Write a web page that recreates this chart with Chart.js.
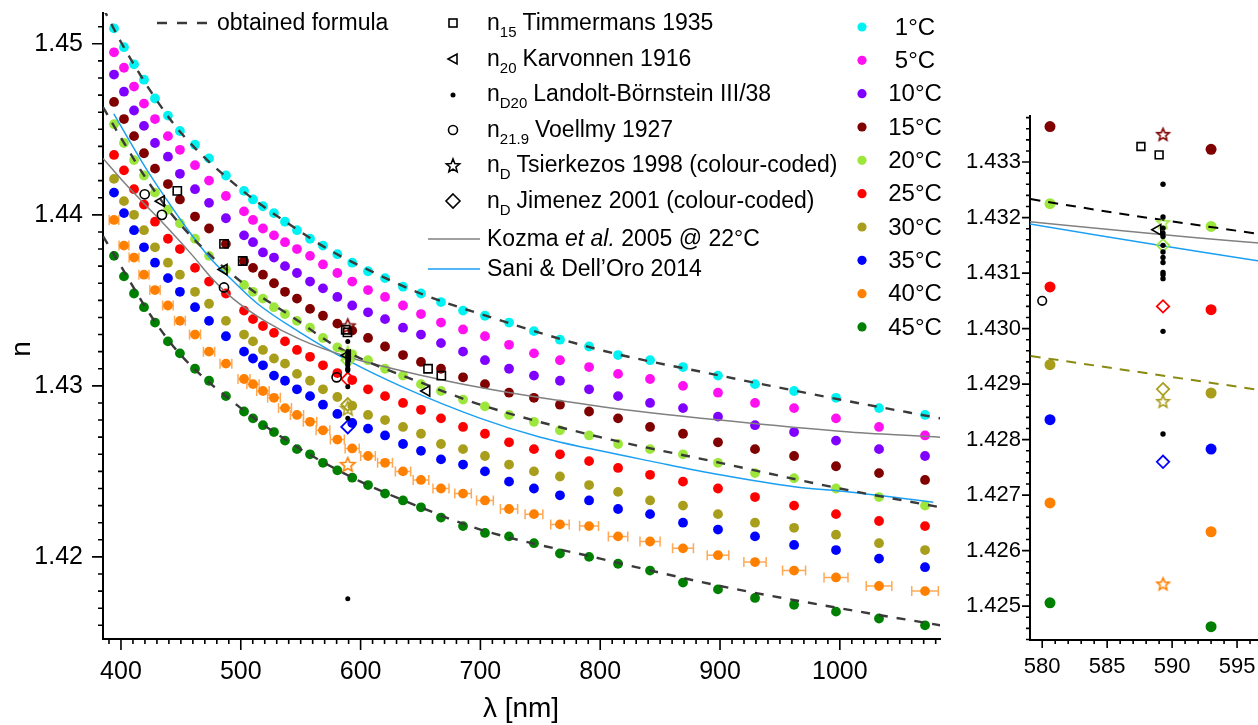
<!DOCTYPE html>
<html>
<head>
<meta charset="utf-8">
<script src="https://cdn.jsdelivr.net/npm/chart.js@4.4.1/dist/chart.umd.min.js"></script>
<style>
  html, body { margin: 0; padding: 0; background: #fff; overflow: hidden; width: 1258px; height: 725px; }
  #main { position: absolute; left: 0; top: 0; }
  #inset { position: absolute; left: 940px; top: 100px; }
</style>
</head>
<body>
<canvas id="main" width="960" height="725" style="width:960px;height:725px"></canvas>
<canvas id="inset" width="370" height="625" style="width:370px;height:625px"></canvas>
<script>
// wavelengths [nm] of the measured columns
var wavelengths = [394.2, 402.5, 410.9, 419.2, 428.4, 439.2, 449.2, 461.8, 473.5, 487.6,
  502.7, 510.2, 518.5, 527.7, 536.9, 546.9, 557.8, 568.6, 580.6, 593.0,
  606.2, 620.4, 635.4, 650.4, 667.1, 685.5, 703.8, 723.9, 744.7, 766.4,
  790.7, 814.9, 841.6, 869.1, 898.3, 929.2, 961.8, 996.8, 1032.7, 1071.1];

var temperatures = ['1°C', '5°C', '10°C', '15°C', '20°C', '25°C', '30°C', '35°C', '40°C', '45°C'];

var n1C = [1.4509, 1.4498, 1.4488, 1.4479, 1.4468, 1.4458, 1.4449, 1.4441, 1.4433, 1.4423, 1.4414, 1.4409, 1.4405, 1.4401, 1.4396, 1.4391, 1.4386, 1.4382, 1.4377, 1.4372, 1.4367, 1.4363, 1.4358, 1.4354, 1.4349, 1.4344, 1.4341, 1.4337, 1.4332, 1.4327, 1.4323, 1.4318, 1.4315, 1.4311, 1.4306, 1.4301, 1.4297, 1.4293, 1.4287, 1.4283];
var n5C = [1.4495, 1.4486, 1.4475, 1.4465, 1.4456, 1.4446, 1.4438, 1.4429, 1.4420, 1.4411, 1.4402, 1.4397, 1.4392, 1.4388, 1.4384, 1.4380, 1.4376, 1.4371, 1.4366, 1.4361, 1.4356, 1.4352, 1.4347, 1.4342, 1.4337, 1.4333, 1.4329, 1.4324, 1.4319, 1.4315, 1.4311, 1.4307, 1.4304, 1.4300, 1.4296, 1.4290, 1.4287, 1.4281, 1.4276, 1.4271];
var n10C = [1.4482, 1.4472, 1.4461, 1.4452, 1.4442, 1.4434, 1.4424, 1.4415, 1.4407, 1.4398, 1.4388, 1.4384, 1.4378, 1.4375, 1.4370, 1.4366, 1.4361, 1.4357, 1.4352, 1.4347, 1.4343, 1.4339, 1.4334, 1.4330, 1.4325, 1.4320, 1.4315, 1.4310, 1.4306, 1.4303, 1.4298, 1.4294, 1.4290, 1.4287, 1.4282, 1.4277, 1.4273, 1.4268, 1.4263, 1.4259];
var n15C = [1.4466, 1.4456, 1.4446, 1.4436, 1.4427, 1.4418, 1.4409, 1.4399, 1.4392, 1.4383, 1.4373, 1.4369, 1.4365, 1.4360, 1.4355, 1.4351, 1.4345, 1.4341, 1.43364, 1.43323, 1.4328, 1.4323, 1.4318, 1.4314, 1.4310, 1.4305, 1.4301, 1.4296, 1.4293, 1.4289, 1.4285, 1.4281, 1.4276, 1.4272, 1.4267, 1.4263, 1.4259, 1.4253, 1.4249, 1.4245];
var n20C = [1.4453, 1.4442, 1.4432, 1.4423, 1.4413, 1.4403, 1.4395, 1.4386, 1.4376, 1.4368, 1.4359, 1.4355, 1.4351, 1.4346, 1.4342, 1.4338, 1.4334, 1.4328, 1.43225, 1.43184, 1.4315, 1.4310, 1.4306, 1.4301, 1.4297, 1.4292, 1.4288, 1.4283, 1.4279, 1.4274, 1.4271, 1.4266, 1.4263, 1.4260, 1.4255, 1.4249, 1.4246, 1.4240, 1.4235, 1.4230];
var n25C = [1.4435, 1.4426, 1.4415, 1.4406, 1.4396, 1.4386, 1.4380, 1.4369, 1.4361, 1.4354, 1.4344, 1.4339, 1.4335, 1.4331, 1.4326, 1.4321, 1.4317, 1.4312, 1.43075, 1.43034, 1.4298, 1.4294, 1.4290, 1.4286, 1.4281, 1.4276, 1.4272, 1.4267, 1.4263, 1.4260, 1.4256, 1.4252, 1.4248, 1.4244, 1.4240, 1.4235, 1.4230, 1.4225, 1.4221, 1.4218];
var n30C = [1.4421, 1.4408, 1.4400, 1.4391, 1.4381, 1.4372, 1.4365, 1.4355, 1.4348, 1.4338, 1.4330, 1.4326, 1.4321, 1.4316, 1.4313, 1.4307, 1.4303, 1.4298, 1.42935, 1.42884, 1.4283, 1.4280, 1.4276, 1.4272, 1.4266, 1.4263, 1.4259, 1.4254, 1.4250, 1.4247, 1.4242, 1.4238, 1.4233, 1.4230, 1.4225, 1.4220, 1.4217, 1.4213, 1.4208, 1.4204];
var n35C = [1.4413, 1.4401, 1.4391, 1.4381, 1.4372, 1.4363, 1.4355, 1.4346, 1.4338, 1.4329, 1.4320, 1.4316, 1.4312, 1.4306, 1.4303, 1.4298, 1.4294, 1.4289, 1.42836, 1.42783, 1.4275, 1.4271, 1.4266, 1.4262, 1.4257, 1.4254, 1.4250, 1.4244, 1.4240, 1.4236, 1.4233, 1.4228, 1.4225, 1.4220, 1.4216, 1.4212, 1.4207, 1.4204, 1.4199, 1.4194];
var n40C = [1.4397, 1.4382, 1.4375, 1.4365, 1.4356, 1.4347, 1.4338, 1.4330, 1.4320, 1.4313, 1.4304, 1.4301, 1.4297, 1.4293, 1.4287, 1.4283, 1.4279, 1.4274, 1.42686, 1.42634, 1.4259, 1.4255, 1.4250, 1.4245, 1.4240, 1.4237, 1.4233, 1.4228, 1.4225, 1.4219, 1.4218, 1.4212, 1.4209, 1.4205, 1.4201, 1.4197, 1.4192, 1.4188, 1.4183, 1.4180];
var n45C = [1.4376, 1.4364, 1.4354, 1.4346, 1.4337, 1.4326, 1.4319, 1.4310, 1.4303, 1.4294, 1.4285, 1.4281, 1.4277, 1.4273, 1.4268, 1.4263, 1.4260, 1.4255, 1.42506, 1.42463, 1.4242, 1.4237, 1.4233, 1.4229, 1.4223, 1.4218, 1.4214, 1.4212, 1.4208, 1.4202, 1.4200, 1.4196, 1.4192, 1.4185, 1.4181, 1.4176, 1.4172, 1.4168, 1.4164, 1.4160];
// wavelength uncertainty of the 40°C series [nm]
var xErr40C = [4.0, 4.1, 4.1, 4.2, 4.3, 4.4, 4.5, 4.6, 4.7, 4.9, 5.0, 5.1, 5.2, 5.3, 5.4, 5.5, 5.6, 5.7, 5.8, 5.9, 6.1, 6.2, 6.4, 6.5, 6.7, 6.9, 7.0, 7.2, 7.4, 7.7, 7.9, 8.1, 8.4, 8.7, 9.0, 9.3, 9.6, 10.0, 10.7, 11.1];

// obtained formula curves
var formulaL = [385, 400, 425, 450, 500, 550, 575, 600, 650, 700, 800, 900, 1000, 1084];
var formula1C = [1.4521, 1.4501, 1.4472, 1.4448, 1.4415, 1.4390, 1.4379, 1.4370, 1.4354, 1.4342, 1.4321, 1.4306, 1.4292, 1.4281];
var formula20C = [1.4463, 1.4445, 1.4417, 1.4394, 1.4361, 1.4337, 1.4325, 1.4316, 1.4302, 1.4289, 1.4270, 1.4255, 1.4240, 1.4229];
var formula45C = [1.43875, 1.4370, 1.4341, 1.4318, 1.4287, 1.4263, 1.4253, 1.4244, 1.4229, 1.4216, 1.4199, 1.4183, 1.4170, 1.4160];
var formula30L = [575, 600];
var formula30C = [1.42965, 1.42878];

// literature curves
var kozmaL = [385, 400, 416, 438, 460, 477, 493.5, 520, 550, 589, 633, 700, 800, 900, 1008, 1084];
var kozmaN = [1.4433, 1.4421, 1.4409, 1.4393, 1.4376, 1.4362, 1.4351, 1.4338, 1.4327, 1.4317, 1.4309, 1.4299, 1.4288, 1.4280, 1.4273, 1.4270];
var saniL = [394, 421, 438, 455, 474, 494, 514, 550, 589, 633, 700, 750, 800, 842, 900, 962, 1008, 1078];
var saniN = [1.4459, 1.4427, 1.4409, 1.4392, 1.4375, 1.4361, 1.4348, 1.4331, 1.4315, 1.4300, 1.4281, 1.4270, 1.4262, 1.4256, 1.4248, 1.4241, 1.4238, 1.4232];

// literature points
var timmermansL = [447.0, 486.0, 501.6, 587.6, 589.0, 656.3, 667.4];
var timmermansN = [1.4414, 1.4383, 1.4373, 1.43328, 1.43313, 1.4310, 1.4306];
var karvonnenL = [433.6, 486.0, 588.9, 655.2];
var karvonnenN = [1.4408, 1.4368, 1.43178, 1.4297];
var landoltL = [589.3, 589.3, 589.3, 589.3, 589.3, 589.3, 589.3, 589.3, 589.3, 589.3, 589.3, 589.3, 589.3, 589.3, 589.3];
var landoltN = [1.4326, 1.43201, 1.43181, 1.43172, 1.43166, 1.43150, 1.43138, 1.43128, 1.43119, 1.43101, 1.43097, 1.43090, 1.42995, 1.42810, 1.41755];
var voellmyL = [419.8, 434.2, 486.0, 580.0];
var voellmyN = [1.4412, 1.4400, 1.43575, 1.4305];
var tsierkezosT = ['15°C', '20°C', '30°C', '40°C'];
var tsierkezosN = [1.43350, 1.43191, 1.42869, 1.42540];
var jimenezT = ['20°C', '25°C', '30°C', '35°C'];
var jimenezN = [1.43150, 1.43040, 1.42891, 1.42760];

var tempColors = ['#00f2f2', '#ff10f0', '#8000ff', '#800000', '#9de63b', '#ff0000', '#a89e1c', '#0000ff', '#ff8000', '#008000'];
var FONT = "'Liberation Sans', Arial, Helvetica, sans-serif";
Chart.defaults.font.family = FONT;
Chart.defaults.color = '#000';

function toPts(xs, ys) { return xs.map(function (x, i) { return { x: x, y: ys[i] }; }); }
function colorOf(t) { return tempColors[temperatures.indexOf(t)]; }

function starPath(ctx, cx, cy, R, r) {
  ctx.beginPath();
  for (var k = 0; k < 10; k++) {
    var rad = k % 2 ? r : R;
    var a = -Math.PI / 2 + k * Math.PI / 5;
    var px = cx + rad * Math.cos(a), py = cy + rad * Math.sin(a);
    if (k) ctx.lineTo(px, py); else ctx.moveTo(px, py);
  }
  ctx.closePath();
}
function starImage(color, R) {
  var c = document.createElement('canvas');
  var s = Math.ceil(2 * R + 4);
  c.width = s; c.height = s;
  var g = c.getContext('2d');
  g.strokeStyle = color; g.lineWidth = 1.6;
  starPath(g, s / 2, s / 2 + 0.5, R, R * 0.45);
  g.stroke();
  return c;
}

function buildDatasets(inset) {
  var ds = [];
  var dotR = inset ? 5.5 : 4.9;
  var mk = inset ? { sq: 5.5, tri: 6, dot: 2.7, circ: 4.3, star: 6.5, dia: 6.2 } : { sq: 5.8, tri: 6, dot: 2.5, circ: 4.6, star: 7.5, dia: 6.5 };
  var clear = 'rgba(0,0,0,0)';
  // reference points on top
  ds.push({ data: toPts(landoltL, landoltN), pointStyle: 'circle', pointRadius: mk.dot, backgroundColor: '#000', borderWidth: 0, order: 0 });
  ds.push({ data: toPts(timmermansL, timmermansN), pointStyle: 'rect', pointRadius: mk.sq, backgroundColor: clear, borderColor: '#000', borderWidth: 1.6, order: 0 });
  ds.push({ data: toPts(karvonnenL, karvonnenN), pointStyle: 'triangle', rotation: -90, pointRadius: mk.tri, backgroundColor: clear, borderColor: '#000', borderWidth: 1.6, order: 0 });
  ds.push({ data: toPts(voellmyL, voellmyN), pointStyle: 'circle', pointRadius: mk.circ, backgroundColor: clear, borderColor: '#000', borderWidth: 1.6, order: 0 });
  ds.push({ data: toPts(tsierkezosN.map(function () { return 589.3; }), tsierkezosN),
    pointStyle: tsierkezosT.map(function (t) { return starImage(colorOf(t), mk.star); }), pointRadius: mk.star, order: 0 });
  ds.push({ data: toPts(jimenezN.map(function () { return 589.3; }), jimenezN), pointStyle: 'rectRot', pointRadius: mk.dia,
    backgroundColor: clear, borderColor: jimenezT.map(colorOf), borderWidth: 1.8, order: 0 });
  // curves
  var line = function (xs, ys, color, width, dash) {
    return { data: toPts(xs, ys), showLine: true, pointRadius: 0, borderColor: color, borderWidth: width,
      borderDash: dash || [], cubicInterpolationMode: 'monotone', capBezierPoints: false, fill: false, order: 1 };
  };
  if (inset) {
    ds.push(line(formulaL, formula20C, '#000', 2, [10, 8]));
    ds.push(line(formula30L, formula30C, '#8a8a10', 2, [10, 8]));
  } else {
    ds.push(line(formulaL, formula1C, '#3a3a3a', 2.4, [9, 9]));
    ds.push(line(formulaL, formula20C, '#3a3a3a', 2.4, [9, 9]));
    ds.push(line(formulaL, formula45C, '#3a3a3a', 2.4, [9, 9]));
  }
  ds.push(line(kozmaL, kozmaN, '#808080', 1.5));
  ds.push(line(saniL, saniN, '#1a9ff2', 1.5));
  // measured series
  [n1C, n5C, n10C, n15C, n20C, n25C, n30C, n35C, n40C, n45C].forEach(function (arr, i) {
    ds.push({ label: temperatures[i], data: toPts(wavelengths, arr), pointStyle: 'circle', pointRadius: dotR,
      backgroundColor: tempColors[i], borderWidth: 0, order: 2 });
  });
  return ds;
}

function tickMarks(cfg) {
  return {
    id: 'tickMarks',
    afterDraw: function (chart) {
      var ctx = chart.ctx, a = chart.chartArea, sx = chart.scales.x, sy = chart.scales.y;
      ctx.save();
      ctx.strokeStyle = '#000'; ctx.lineWidth = 1.6;
      ctx.beginPath();
      var i, v, major, p;
      for (i = Math.ceil(sx.min / cfg.xMinor - 1e-6); i <= Math.floor(sx.max / cfg.xMinor + 1e-6); i++) {
        v = i * cfg.xMinor;
        major = Math.abs(v / cfg.xMajor - Math.round(v / cfg.xMajor)) < 1e-6;
        p = sx.getPixelForValue(v);
        if (p > chart.width) continue;
        ctx.moveTo(p, a.bottom); ctx.lineTo(p, a.bottom + (major ? cfg.major : cfg.minor));
      }
      for (i = Math.ceil(sy.min / cfg.yMinor - 1e-6); i <= Math.floor(sy.max / cfg.yMinor + 1e-6); i++) {
        v = i * cfg.yMinor;
        major = Math.abs(v / cfg.yMajor - Math.round(v / cfg.yMajor)) < 1e-6;
        p = sy.getPixelForValue(v);
        ctx.moveTo(a.left, p); ctx.lineTo(a.left - (major ? cfg.major : cfg.minor), p);
      }
      ctx.stroke();
      ctx.restore();
    }
  };
}

var errorBars = {
  id: 'errorBars',
  beforeDatasetsDraw: function (chart) {
    var ctx = chart.ctx, sx = chart.scales.x, sy = chart.scales.y;
    ctx.save();
    ctx.strokeStyle = 'rgba(255,140,30,0.75)'; ctx.lineWidth = 1.5;
    ctx.beginPath();
    wavelengths.forEach(function (l, i) {
      var y = sy.getPixelForValue(n40C[i]);
      var xa = sx.getPixelForValue(l - xErr40C[i]), xb = sx.getPixelForValue(l + xErr40C[i]);
      ctx.moveTo(xa, y); ctx.lineTo(xb, y);
      ctx.moveTo(xa, y - 5); ctx.lineTo(xa, y + 5);
      ctx.moveTo(xb, y - 5); ctx.lineTo(xb, y + 5);
    });
    ctx.stroke();
    ctx.restore();
  }
};

function subLabel(ctx, x, y, sub, text) {
  ctx.font = '23px ' + FONT;
  ctx.fillText('n', x, y);
  var w = ctx.measureText('n').width;
  ctx.font = '15px ' + FONT;
  ctx.fillText(sub, x + w, y + 9);
  var w2 = ctx.measureText(sub).width;
  ctx.font = '23px ' + FONT;
  ctx.fillText(text, x + w + w2 + 6, y);
}

var legendPlugin = {
  id: 'legendPlugin',
  afterDraw: function (chart) {
    var ctx = chart.ctx;
    ctx.save();
    ctx.textBaseline = 'middle'; ctx.textAlign = 'left'; ctx.fillStyle = '#000';
    // obtained formula
    ctx.strokeStyle = '#3a3a3a'; ctx.lineWidth = 2.4; ctx.setLineDash([10, 10]);
    ctx.beginPath(); ctx.moveTo(157, 23); ctx.lineTo(209, 23); ctx.stroke();
    ctx.setLineDash([]);
    ctx.font = '23px ' + FONT;
    ctx.fillText('obtained formula', 217, 24);
    // literature markers
    var mx = 453, tx = 487;
    ctx.strokeStyle = '#000'; ctx.lineWidth = 1.6;
    ctx.strokeRect(mx - 4, 23 - 4, 8, 8);
    ctx.beginPath(); ctx.moveTo(mx - 5, 59); ctx.lineTo(mx + 4, 54); ctx.lineTo(mx + 4, 64); ctx.closePath(); ctx.stroke();
    ctx.beginPath(); ctx.arc(mx, 95, 2.5, 0, 2 * Math.PI); ctx.fill();
    ctx.beginPath(); ctx.arc(mx, 130, 4.5, 0, 2 * Math.PI); ctx.stroke();
    starPath(ctx, mx, 166, 7, 3.1); ctx.stroke();
    ctx.beginPath(); ctx.moveTo(mx, 194); ctx.lineTo(mx + 7, 201); ctx.lineTo(mx, 208); ctx.lineTo(mx - 7, 201); ctx.closePath(); ctx.stroke();
    subLabel(ctx, tx, 24, '15', 'Timmermans 1935');
    subLabel(ctx, tx, 60, '20', 'Karvonnen 1916');
    subLabel(ctx, tx, 95, 'D20', 'Landolt-Börnstein III/38');
    subLabel(ctx, tx, 131, '21.9', 'Voellmy 1927');
    subLabel(ctx, tx, 166, 'D', 'Tsierkezos 1998 (colour-coded)');
    subLabel(ctx, tx, 202, 'D', 'Jimenez 2001 (colour-coded)');
    // literature curves
    ctx.lineWidth = 1.5;
    ctx.strokeStyle = '#808080'; ctx.beginPath(); ctx.moveTo(428, 239); ctx.lineTo(480, 239); ctx.stroke();
    ctx.strokeStyle = '#1a9ff2'; ctx.beginPath(); ctx.moveTo(428, 269); ctx.lineTo(480, 269); ctx.stroke();
    ctx.font = '23px ' + FONT;
    var x0 = tx;
    ctx.fillText('Kozma ', x0, 240); x0 += ctx.measureText('Kozma ').width;
    ctx.font = 'italic 23px ' + FONT;
    ctx.fillText('et al.', x0, 240); x0 += ctx.measureText('et al.').width;
    ctx.font = '23px ' + FONT;
    ctx.fillText(' 2005 @ 22°C', x0, 240);
    ctx.fillText('Sani & Dell\u2019Oro 2014', tx, 270);
    // temperatures
    ctx.textAlign = 'center';
    ctx.font = '24px ' + FONT;
    temperatures.forEach(function (t, i) {
      var y = 27 + i * 33.33;
      ctx.fillStyle = tempColors[i];
      ctx.beginPath(); ctx.arc(862, y, 4.6, 0, 2 * Math.PI); ctx.fill();
      ctx.fillStyle = '#000';
      ctx.fillText(t, 915, y + 1);
    });
    // axis titles
    ctx.font = '28px ' + FONT;
    ctx.fillText('\u03bb [nm]', 521, 709);
    ctx.translate(22, 349);
    ctx.rotate(-Math.PI / 2);
    ctx.fillText('n', 0, 0);
    ctx.restore();
  }
};

function scaleOpts(min, max, step, digits, fontSize, pad, fit, isX) {
  return {
    type: 'linear', min: min, max: max,
    grid: { display: false, drawTicks: false },
    border: { display: true, color: '#000', width: 2 },
    ticks: {
      autoSkip: false, maxRotation: 0, padding: pad,
      color: '#000', font: { size: fontSize, family: FONT },
      callback: function (v) { return digits ? v.toFixed(digits) : String(Math.round(v)); }
    },
    afterBuildTicks: function (s) {
      var out = [];
      for (var i = Math.ceil(min / step - 1e-6); i <= Math.floor(max / step + 1e-6); i++) {
        out.push({ value: +(i * step).toFixed(6) });
      }
      s.ticks = out;
    },
    afterFit: function (s) {
      if (isX) s.height = fit; else s.width = fit;
      s.paddingLeft = 0; s.paddingRight = 0; s.paddingTop = 0; s.paddingBottom = 0;
    }
  };
}

new Chart(document.getElementById('main'), {
  type: 'scatter',
  data: { datasets: buildDatasets(false) },
  options: {
    responsive: false, animation: false, events: [],
    layout: { padding: { left: 0, right: 20, top: 13, bottom: 0 } },
    plugins: { legend: { display: false }, tooltip: { enabled: false } },
    scales: {
      x: scaleOpts(385, 1083.6, 100, 0, 25, 18, 86, true),
      y: scaleOpts(1.4152, 1.4518, 0.01, 2, 25, 20, 103, false)
    }
  },
  plugins: [errorBars, tickMarks({ xMinor: 10, xMajor: 100, yMinor: 0.001, yMajor: 0.01, major: 11, minor: 5 }), legendPlugin]
});

new Chart(document.getElementById('inset'), {
  type: 'scatter',
  data: { datasets: buildDatasets(true) },
  options: {
    responsive: false, animation: false, events: [],
    layout: { padding: { left: 0, right: 5.3, top: 16, bottom: 0 } },
    plugins: { legend: { display: false }, tooltip: { enabled: false } },
    scales: {
      x: scaleOpts(579.06, 600, 5, 0, 22, 14, 85, true),
      y: scaleOpts(1.42439, 1.43383, 0.001, 3, 22, 9, 90, false)
    }
  },
  plugins: [tickMarks({ xMinor: 1, xMajor: 5, yMinor: 0.0002, yMajor: 0.001, major: 8, minor: 4 })]
});
</script>
</body>
</html>
